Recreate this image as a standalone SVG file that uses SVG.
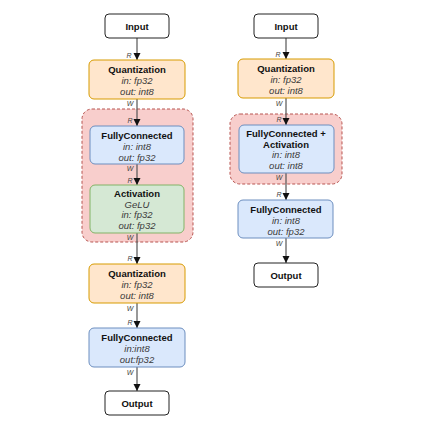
<svg xmlns="http://www.w3.org/2000/svg" width="425" height="425" viewBox="0 0 425 425">
<defs>
<marker id="arr" markerWidth="8" markerHeight="8" refX="7" refY="4" orient="auto" markerUnits="userSpaceOnUse">
<path d="M0,0.5 L7,4 L0,7.5 Z" fill="#111"/>
</marker>
<style>
.grp{fill:#f8cecc;stroke:#b85450;stroke-width:1;stroke-dasharray:3 2}
.io{fill:#fff;stroke:#222;stroke-width:1}
.q{fill:#ffe6cc;stroke:#d79b00;stroke-width:1}
.fc{fill:#dae8fc;stroke:#6c8ebf;stroke-width:1}
.act{fill:#d5e8d4;stroke:#82b366;stroke-width:1}
text{font-family:"Liberation Sans",Arial,sans-serif;text-anchor:middle}
.t{font-size:9.5px;font-weight:bold;fill:#111}
.i{font-size:9.5px;font-style:italic;fill:#3a3a3a}
.lbl{font-size:7px;font-style:italic;fill:#444}
.e{stroke:#555;stroke-width:1.2;fill:none;marker-end:url(#arr)}
</style>
</defs>
<rect width="425" height="425" fill="#fff"/>

<g id="groups">
<rect id="fused-left" class="grp" x="82" y="109" width="111" height="133" rx="10"/>
<rect id="fused-right" class="grp" x="230" y="114" width="112" height="70" rx="10"/>
</g>

<g id="connectors">
<line class="e" x1="137" y1="38" x2="137" y2="60"/>
<line class="e" x1="137" y1="99" x2="137" y2="126"/>
<line class="e" x1="137" y1="164" x2="137" y2="185"/>
<line class="e" x1="137" y1="233" x2="137" y2="264"/>
<line class="e" x1="137" y1="303" x2="137" y2="328"/>
<line class="e" x1="137" y1="367" x2="137" y2="391"/>
<line class="e" x1="286" y1="38" x2="286" y2="59"/>
<line class="e" x1="286" y1="98" x2="286" y2="125"/>
<line class="e" x1="286" y1="173" x2="286" y2="200"/>
<line class="e" x1="286" y1="238" x2="286" y2="263"/>
<text class="lbl" x="129" y="58">R</text>
<text class="lbl" x="130" y="106">W</text>
<text class="lbl" x="130" y="123">R</text>
<text class="lbl" x="130" y="171">W</text>
<text class="lbl" x="130" y="183">R</text>
<text class="lbl" x="130" y="240">W</text>
<text class="lbl" x="130" y="261">R</text>
<text class="lbl" x="130" y="311">W</text>
<text class="lbl" x="130" y="325">R</text>
<text class="lbl" x="130" y="375">W</text>
<text class="lbl" x="278" y="57">R</text>
<text class="lbl" x="279" y="106">W</text>
<text class="lbl" x="279" y="122">R</text>
<text class="lbl" x="279" y="180">W</text>
<text class="lbl" x="279" y="197">R</text>
<text class="lbl" x="279" y="246">W</text>
</g>

<g id="l-input">
<rect class="io" x="105" y="14" width="64" height="24" rx="4"/>
<text class="t" x="137" y="29.5">Input</text>
</g>
<g id="l-quant1">
<rect class="q" x="89" y="60" width="96" height="39" rx="5"/>
<text class="t" x="137" y="72.5">Quantization</text>
<text class="i" x="137" y="83.5">in: fp32</text>
<text class="i" x="137" y="94.5">out: int8</text>
</g>
<g id="l-fc1">
<rect class="fc" x="90" y="126" width="94" height="38" rx="5"/>
<text class="t" x="137" y="138.5">FullyConnected</text>
<text class="i" x="137" y="149.5">in: int8</text>
<text class="i" x="137" y="160.5">out: fp32</text>
</g>
<g id="l-act">
<rect class="act" x="90" y="185" width="94" height="48" rx="5"/>
<text class="t" x="137" y="197">Activation</text>
<text class="i" x="137" y="207.5">GeLU</text>
<text class="i" x="137" y="218">in: fp32</text>
<text class="i" x="137" y="228.5">out: fp32</text>
</g>
<g id="l-quant2">
<rect class="q" x="89" y="264" width="96" height="39" rx="5"/>
<text class="t" x="137" y="276.5">Quantization</text>
<text class="i" x="137" y="287.5">in: fp32</text>
<text class="i" x="137" y="298.5">out: int8</text>
</g>
<g id="l-fc2">
<rect class="fc" x="89" y="328" width="96" height="39" rx="5"/>
<text class="t" x="137" y="340.5">FullyConnected</text>
<text class="i" x="137" y="351.5">in:int8</text>
<text class="i" x="137" y="362.5">out:fp32</text>
</g>
<g id="l-output">
<rect class="io" x="105" y="391" width="64" height="24" rx="4"/>
<text class="t" x="137" y="406.5">Output</text>
</g>

<g id="r-input">
<rect class="io" x="254" y="14" width="64" height="24" rx="4"/>
<text class="t" x="286" y="29.5">Input</text>
</g>
<g id="r-quant">
<rect class="q" x="238" y="59" width="96" height="39" rx="5"/>
<text class="t" x="286" y="71.5">Quantization</text>
<text class="i" x="286" y="82.5">in: fp32</text>
<text class="i" x="286" y="93.5">out: int8</text>
</g>
<g id="r-fcact">
<rect class="fc" x="239" y="125" width="95" height="48" rx="5"/>
<text class="t" x="286" y="137">FullyConnected +</text>
<text class="t" x="286" y="147.5">Activation</text>
<text class="i" x="286" y="158">in: int8</text>
<text class="i" x="286" y="168.5">out: int8</text>
</g>
<g id="r-fc">
<rect class="fc" x="238" y="200" width="95" height="38" rx="5"/>
<text class="t" x="286" y="212.5">FullyConnected</text>
<text class="i" x="286" y="223.5">in: int8</text>
<text class="i" x="286" y="234.5">out: fp32</text>
</g>
<g id="r-output">
<rect class="io" x="254" y="263" width="64" height="24" rx="4"/>
<text class="t" x="286" y="278.5">Output</text>
</g>
</svg>
